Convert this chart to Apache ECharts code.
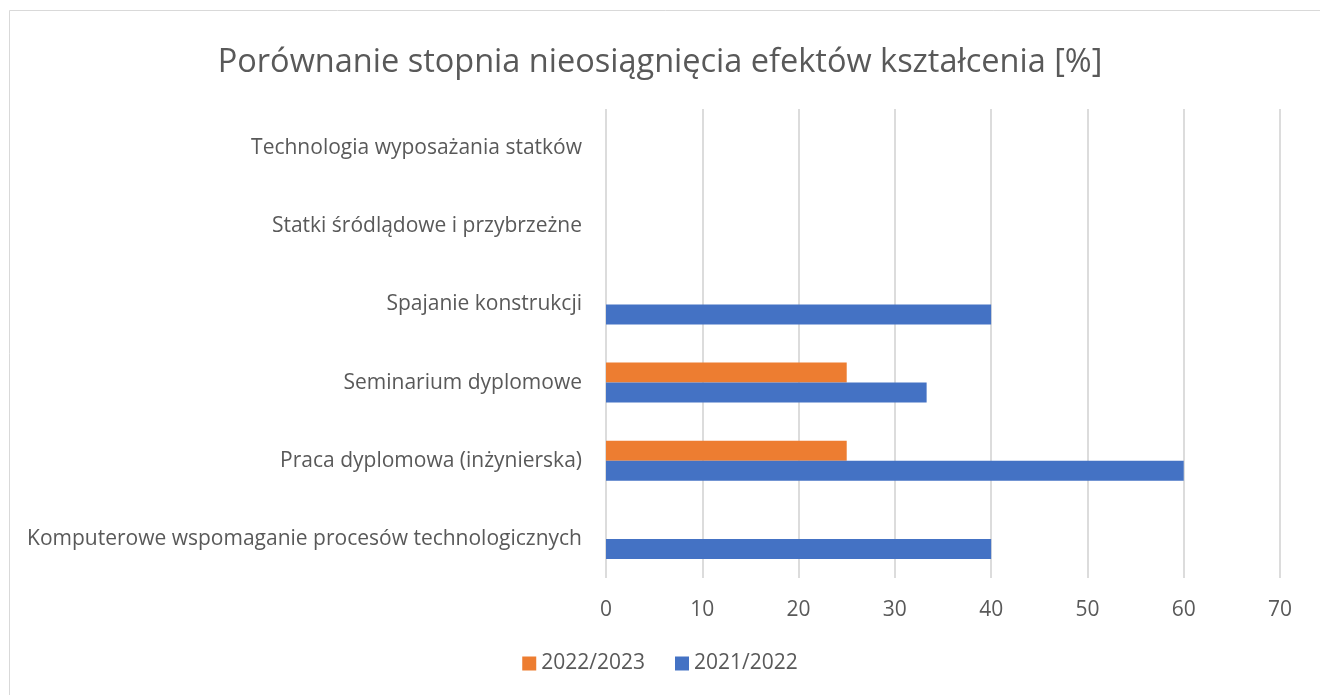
<!DOCTYPE html>
<html>
<head>
<meta charset="utf-8">
<script src="https://cdn.jsdelivr.net/npm/echarts@6/dist/echarts.min.js"></script>
<style>
  html, body { margin: 0; padding: 0; background: #fff; }
  #chart { width: 1320px; height: 695px; }
</style>
</head>
<body>
<div id="chart"></div>
<script>
// categories, bottom to top
var categories = [
  "Komputerowe wspomaganie procesów technologicznych",
  "Praca dyplomowa (inżynierska)",
  "Seminarium dyplomowe",
  "Spajanie konstrukcji",
  "Statki śródlądowe i przybrzeżne",
  "Technologia wyposażania statków"
];
var values2122 = [40, 60, 33.3, 40, 0, 0];
var values2223 = [0, 25, 25, 0, 0, 0];
var xTicks = [0, 70, 10]; // min, max, interval

var textColor = "#595959";
var font = "Open Sans";

var myChart = echarts.init(document.getElementById("chart"));
myChart.setOption({
  animation: false,
  backgroundColor: "#fff",
  textStyle: { fontFamily: font },
  graphic: [{
    type: "rect",
    shape: { x: 9.5, y: 10.5, width: 1400, height: 800 },
    style: { fill: "none", stroke: "#d9d9d9", lineWidth: 1 },
    silent: true
  }],
  title: {
    text: "Porównanie stopnia nieosiągnięcia efektów kształcenia [%]",
    left: "center",
    top: 41,
    textStyle: { fontFamily: font, fontSize: 32.5, fontWeight: "normal", color: textColor }
  },
  legend: {
    data: ["2022/2023", "2021/2022"],
    bottom: 16,
    left: "center",
    itemWidth: 14,
    itemHeight: 14,
    itemGap: 30,
    icon: "rect",
    textStyle: { fontFamily: font, fontSize: 21, color: textColor }
  },
  grid: { left: 606, right: 40, top: 109, bottom: 117 },
  xAxis: {
    type: "value",
    min: xTicks[0],
    max: xTicks[1],
    interval: xTicks[2],
    axisLine: { show: false },
    axisTick: { show: false },
    splitLine: { lineStyle: { color: "#dcdcdc", width: 2 } },
    axisLabel: { color: textColor, fontSize: 21, fontFamily: font, margin: 22 }
  },
  yAxis: {
    type: "category",
    data: categories,
    axisLine: { show: false },
    axisTick: { show: false },
    axisLabel: { color: textColor, fontSize: 21, fontFamily: font, margin: 24 }
  },
  series: [
    {
      name: "2022/2023",
      type: "bar",
      data: values2223,
      barWidth: 20,
      barGap: "0%",
      itemStyle: { color: "#ed7d31" }
    },
    {
      name: "2021/2022",
      type: "bar",
      data: values2122,
      barWidth: 20,
      barGap: "0%",
      itemStyle: { color: "#4472c4" }
    }
  ]
});
</script>
</body>
</html>
